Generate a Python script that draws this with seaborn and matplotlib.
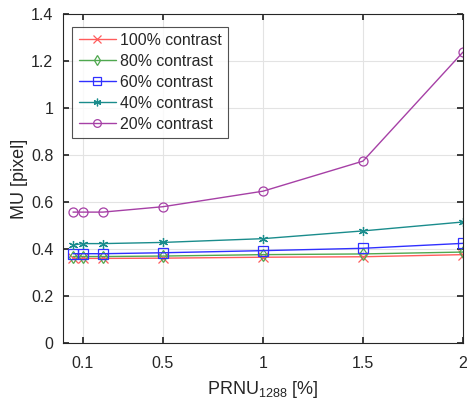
import matplotlib
matplotlib.use("Agg")
import matplotlib.pyplot as plt
import seaborn as sns
import pandas as pd

prnu = [0.05, 0.1, 0.2, 0.5, 1.0, 1.5, 2.0]
c100 = [0.360, 0.360, 0.360, 0.361, 0.365, 0.367, 0.376]
c80 = [0.368, 0.368, 0.368, 0.370, 0.376, 0.379, 0.387]
c60 = [0.380, 0.380, 0.380, 0.384, 0.393, 0.403, 0.424]
c40 = [0.417, 0.423, 0.423, 0.428, 0.444, 0.477, 0.515]
c20 = [0.557, 0.557, 0.557, 0.580, 0.646, 0.774, 1.238]
labels = ["100% contrast", "80% contrast", "60% contrast", "40% contrast", "20% contrast"]
xticks = [0.1, 0.5, 1, 1.5, 2]
yticks = [0, 0.2, 0.4, 0.6, 0.8, 1.0, 1.2, 1.4]

series = [c100, c80, c60, c40, c20]
colors = ["#ff5c5c", "#4fa84f", "#3030ff", "#1a8c8c", "#a640a6"]
markers = ["x", "d", "s", (6, 2, 0), "o"]

sns.set_theme(style="white")
plt.rcParams["font.family"] = ["Liberation Sans", "DejaVu Sans"]
plt.rcParams["mathtext.default"] = "regular"

fig = plt.figure(figsize=(4.69, 4.05), dpi=100)
ax = fig.add_axes([63 / 469, 1 - 343 / 405, 400 / 469, 329 / 405])

for vals, lab, col, mk in zip(series, labels, colors, markers):
    df = pd.DataFrame({"x": prnu, "y": vals})
    sns.lineplot(data=df, x="x", y="y", ax=ax, color=col, marker=mk,
                 markersize=6.5, markerfacecolor="none", markeredgecolor=col,
                 markeredgewidth=0.9, linewidth=1.0, label=lab)

ax.set_xlim(0, 2)
ax.set_ylim(0, 1.4)
ax.set_xticks(xticks)
ax.set_xticklabels(["0.1", "0.5", "1", "1.5", "2"])
ax.set_yticks(yticks)
ax.set_yticklabels(["0", "0.2", "0.4", "0.6", "0.8", "1", "1.2", "1.4"])
ax.grid(True, color="#e3e3e3", linewidth=0.8)
ax.set_axisbelow(True)
for s in ax.spines.values():
    s.set_color("#262626")
    s.set_linewidth(0.8)
ax.tick_params(axis="both", direction="in", length=4, color="#262626",
               labelsize=11.5, labelcolor="#262626",
               top=True, right=True, bottom=True, left=True)
ax.tick_params(axis="x", pad=9)
ax.tick_params(axis="y", pad=7)
ax.set_xlabel("PRNU$_{1288}$ [%]", fontsize=13, color="#262626", labelpad=6)
ax.set_ylabel("MU [pixel]", fontsize=13, color="#262626", labelpad=2)

leg = ax.legend(loc="upper left", bbox_to_anchor=(0.023, 0.962), fontsize=11.4,
                frameon=True, fancybox=False, edgecolor="#262626",
                borderpad=0.4, labelspacing=0.38, handlelength=2.35,
                handletextpad=0.25, borderaxespad=0, markerscale=0.85)
leg.get_frame().set_linewidth(0.8)

fig.savefig("out.png", dpi=100)
